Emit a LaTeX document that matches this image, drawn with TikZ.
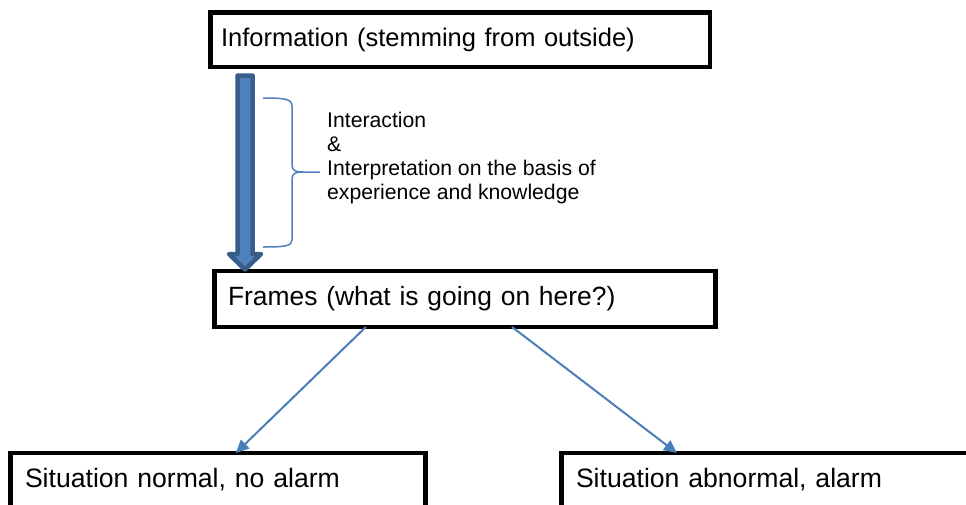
\documentclass[tikz,border=0pt]{standalone}
\usepackage{fontspec}
\setmainfont{Liberation Sans}
\usetikzlibrary{arrows.meta,calc}
\definecolor{accent}{HTML}{4F81BD}
\definecolor{accentdark}{HTML}{385D8A}
\definecolor{connblue}{HTML}{4A7EBB}
\begin{document}
\begin{tikzpicture}[x=1pt,y=-1pt,
  box/.style={draw=black, line width=4.5pt, rectangle, anchor=north west, align=left,
              inner ysep=0pt, outer sep=0pt, font=\fontsize{25.5}{30}\selectfont},
  connector/.style={draw=connblue, line width=2pt, -{Triangle[length=13pt,width=12pt]}},
  bigarrow/.style={fill=accent, draw=accentdark, line width=4.5pt, line join=round},
  bracestyle/.style={draw=accent, line width=1.5pt},
  note/.style={anchor=north west, align=left, inner sep=0pt, font=\fontsize{21.2}{24}\selectfont}
  ]
\useasboundingbox (0,0) rectangle (966,504);
\clip (0,0) rectangle (966,504);
\fill[white] (0,0) rectangle (966,504);

\node[box, inner xsep=10.5pt, text width=478.5pt, minimum height=54.5pt] (info) at (210.5,12.5)
  {Information (stemming from outside)};
\node[box, inner xsep=13.5pt, text width=474pt, minimum height=56pt,
      font=\fontsize{26.4}{30}\selectfont] (frames) at (214.5,271)
  {Frames (what is going on here?)};
\node[box, inner xsep=14.5pt, text width=386pt, minimum height=54pt,
      font=\fontsize{26.6}{30}\selectfont] (normal) at (10.5,453)
  {Situation normal, no alarm};
\node[box, inner xsep=14.5pt, text width=386pt, minimum height=54pt,
      font=\fontsize{26.6}{30}\selectfont] (abnormal) at (561.5,453)
  {Situation abnormal, alarm};

% thick arrow from information to frames
\draw[bigarrow] (237.5,75.5) -- (252.5,75.5) -- (252.5,254) -- (261,254) -- (245,269.5)
  -- (229,254) -- (237.5,254) -- cycle;

% brace
\draw[bracestyle] (263,98) .. controls (285,98) and (292,99) .. (292,106) -- (292,165)
  .. controls (292,171) and (296,172) .. (303,172) -- (320,172);
\draw[bracestyle] (303,172) .. controls (296,172) and (292,173) .. (292,179) -- (292,240)
  .. controls (292,246) and (285,247) .. (263,247);

\node[note] (interp) at (327,112)
  {Interaction\\ \&\\ Interpretation on the basis of\\ experience and knowledge};

\draw[connector] ($(frames.south west)!0.302!(frames.south east)$) --
  ($(normal.north west)!0.543!(normal.north east)$);
\draw[connector] ($(frames.south west)!0.594!(frames.south east)$) --
  ($(abnormal.north west)!0.278!(abnormal.north east)$);
\end{tikzpicture}
\end{document}
